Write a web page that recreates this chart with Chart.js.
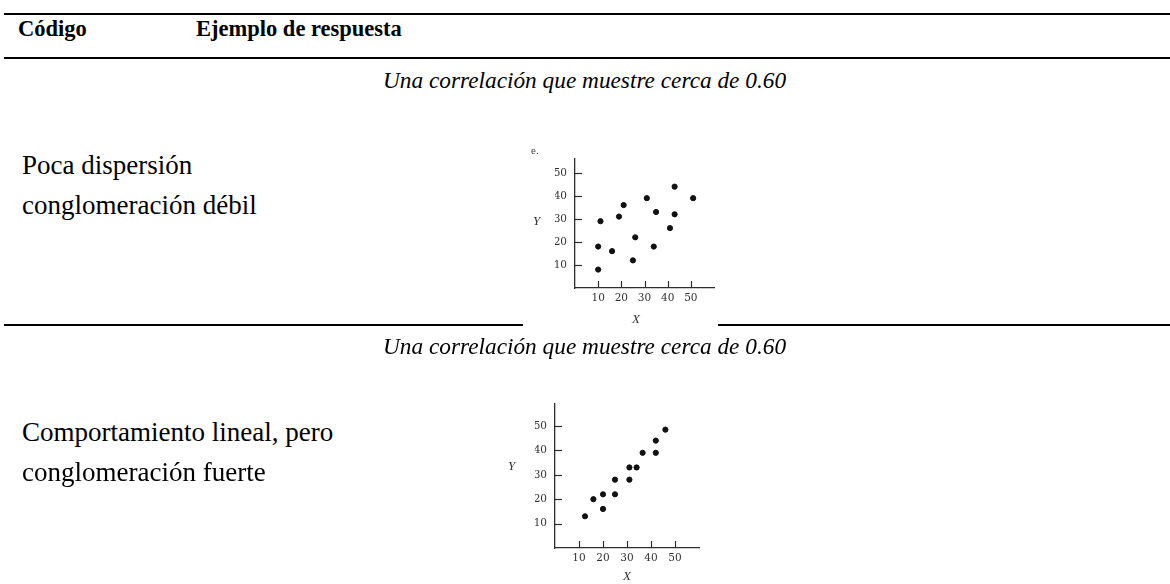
<!DOCTYPE html>
<html lang="es">
<head>
<meta charset="utf-8">
<title>Ejemplos de respuesta</title>
<script src="https://cdn.jsdelivr.net/npm/chart.js@4.4.0/dist/chart.umd.min.js"></script>
<style>
  body {
    margin: 0;
    width: 1170px;
    height: 584px;
    background: #fff;
    position: relative;
    overflow: hidden;
    font-family: "Liberation Serif", "Times New Roman", serif;
    color: #000;
  }
  .rule { position: absolute; left: 4px; right: 0; height: 2px; background: #000; }
  .txt { position: absolute; white-space: nowrap; line-height: 1; z-index: 2; }
  .head { font-weight: bold; font-size: 22.5px; }
  .sub { font-style: italic; font-size: 23.3px; }
  .body { font-size: 27px; }
  .axis-lbl { font-style: italic; font-size: 13px; color: #333; }
  .tag { font-size: 11px; color: #444; }
  canvas { position: absolute; background: #fff; z-index: 1; }
</style>
</head>
<body>
  <div class="rule" style="top:13px"></div>
  <div class="txt head" style="left:18px; top:18px">Código</div>
  <div class="txt head" style="left:196px; top:18px">Ejemplo de respuesta</div>
  <div class="rule" style="top:57px"></div>

  <div class="txt sub" style="left:383px; top:69px">Una correlación que muestre cerca de 0.60</div>
  <div class="txt body" style="left:22px; top:152px">Poca dispersión</div>
  <div class="txt body" style="left:22px; top:192px">conglomeración débil</div>

  <div class="rule" style="top:324px"></div>
  <canvas id="weakChart" width="195" height="187" style="left:523px; top:140px"></canvas>
  <div class="txt tag" style="left:531px; top:145px">e.</div>
  <div class="txt axis-lbl" style="left:533px; top:214px">Y</div>
  <div class="txt axis-lbl" style="left:632px; top:312px">X</div>

  <div class="txt sub" style="left:383px; top:335px">Una correlación que muestre cerca de 0.60</div>
  <div class="txt body" style="left:22px; top:419px">Comportamiento lineal, pero</div>
  <div class="txt body" style="left:22px; top:459px">conglomeración fuerte</div>

  <canvas id="strongChart" width="230" height="204" style="left:500px; top:380px"></canvas>
  <div class="txt axis-lbl" style="left:508px; top:459px">Y</div>
  <div class="txt axis-lbl" style="left:623px; top:569px">X</div>

<script>
// Tick labels shared by both plots
const xTickValues = [10, 20, 30, 40, 50];
const yTickValues = [10, 20, 30, 40, 50];

// Plot e. - weak clustering, lots of spread
const weakX = [10, 10, 11, 16, 19, 21, 25, 26, 31, 34, 35, 41, 43, 43, 51];
const weakY = [8, 18, 29, 16, 31, 36, 12, 22, 39, 18, 33, 26, 32, 44, 39];

// Second plot - linear, strong clustering
const strongX = [12.5, 16, 20, 20, 25, 25, 31, 31, 34, 36.5, 42, 42, 46];
const strongY = [13, 20, 22, 16, 28, 22, 33, 28, 33, 39, 44, 39, 48.5];

const axisColor = '#2e2e2e';
const labelColor = '#333';

// Tick marks point into the plot, like the original figure
const innerTicks = {
  id: 'innerTicks',
  afterDraw(chart) {
    const { ctx, chartArea, scales } = chart;
    ctx.save();
    ctx.strokeStyle = axisColor;
    ctx.lineWidth = 1.2;
    scales.x.ticks.forEach(t => {
      const px = Math.round(scales.x.getPixelForValue(t.value)) + 0.5;
      ctx.beginPath();
      ctx.moveTo(px, chartArea.bottom);
      ctx.lineTo(px, chartArea.bottom - 7);
      ctx.stroke();
    });
    scales.y.ticks.forEach(t => {
      const py = Math.round(scales.y.getPixelForValue(t.value)) + 0.5;
      ctx.beginPath();
      ctx.moveTo(chartArea.left, py);
      ctx.lineTo(chartArea.left + 7, py);
      ctx.stroke();
    });
    ctx.restore();
  },
};

function makeScatter(canvasId, xs, ys, yMax, padding) {
  const ctx = document.getElementById(canvasId).getContext('2d');
  const points = xs.map((x, i) => ({ x, y: ys[i] }));
  const tickFont = { family: '"DejaVu Serif", "Liberation Serif", serif', size: 10.5 };

  return new Chart(ctx, {
    type: 'scatter',
    data: {
      datasets: [{
        data: points,
        backgroundColor: '#111',
        borderColor: '#111',
        pointRadius: 2.6,
        pointHoverRadius: 2.6,
      }],
    },
    plugins: [innerTicks],
    options: {
      responsive: false,
      animation: false,
      devicePixelRatio: 1,
      layout: { padding },
      plugins: { legend: { display: false }, tooltip: { enabled: false } },
      scales: {
        x: {
          type: 'linear',
          min: 0,
          max: 60,
          afterBuildTicks: axis => { axis.ticks = xTickValues.map(v => ({ value: v })); },
          afterFit: scale => { scale.height = 20; },
          grid: { display: true, drawOnChartArea: false, drawTicks: false },
          border: { display: true, color: axisColor, width: 1.3 },
          ticks: { color: labelColor, font: tickFont, padding: 4, maxRotation: 0 },
        },
        y: {
          type: 'linear',
          min: 0,
          max: yMax,
          afterBuildTicks: axis => { axis.ticks = yTickValues.map(v => ({ value: v })); },
          afterFit: scale => { scale.width = 20; },
          grid: { display: true, drawOnChartArea: false, drawTicks: false },
          border: { display: true, color: axisColor, width: 1.3 },
          ticks: { color: labelColor, font: tickFont, padding: 8 },
        },
      },
    },
  });
}

makeScatter('weakChart', weakX, weakY, 56, { left: 32, right: 4, top: 19, bottom: 19 });
makeScatter('strongChart', strongX, strongY, 59, { left: 35, right: 31, top: 24, bottom: 16 });
</script>
</body>
</html>
